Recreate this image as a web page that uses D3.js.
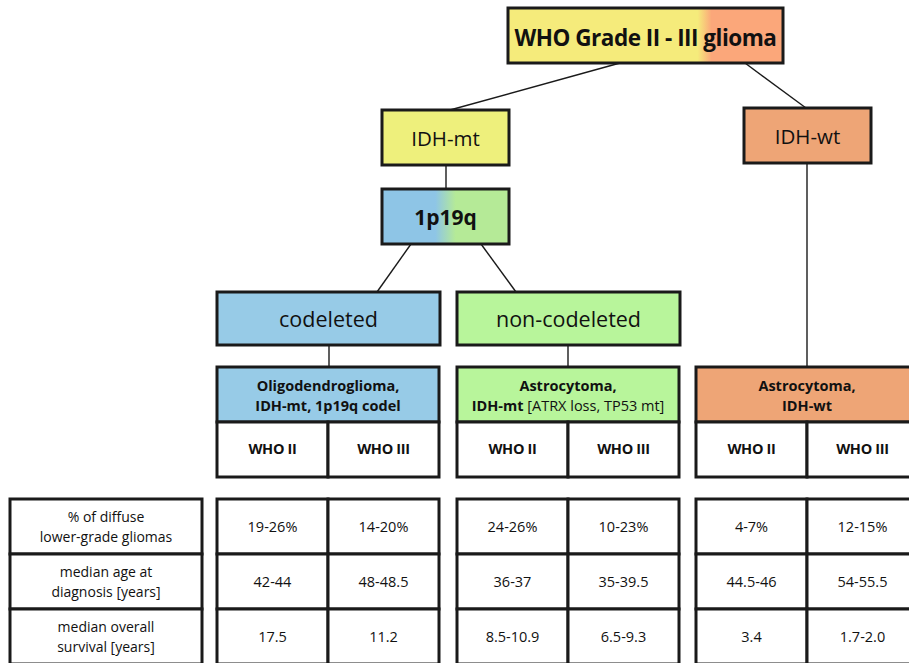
<!DOCTYPE html>
<html><head><meta charset="utf-8">
<script src="https://cdn.jsdelivr.net/npm/d3@7"></script>
<style>
html,body{margin:0;padding:0;background:#fff;}
svg{display:block;font-family:"Open Sans",sans-serif;}
</style></head>
<body>
<div id="chart"></div>
<script>
// ---- data ----
const rootLabel = "WHO Grade II - III glioma";
const idhLabels = ["IDH-mt", "IDH-wt"];
const statusLabel = "1p19q";
const codelLabels = ["codeleted", "non-codeleted"];
const entityLine1 = ["Oligodendroglioma,", "Astrocytoma,", "Astrocytoma,"];
const entityLine2Bold = ["IDH-mt, 1p19q codel", "IDH-mt", "IDH-wt"];
const entityLine2Extra = ["", " [ATRX loss, TP53 mt]", ""];
const grades = ["WHO II", "WHO III"];
const rowLabels = [
  ["% of diffuse", "lower-grade gliomas"],
  ["median age at", "diagnosis [years]"],
  ["median overall", "survival [years]"]
];
const pctValues = ["19-26%", "14-20%", "24-26%", "10-23%", "4-7%", "12-15%"];
const ageValues = ["42-44", "48-48.5", "36-37", "35-39.5", "44.5-46", "54-55.5"];
const survivalValues = ["17.5", "11.2", "8.5-10.9", "6.5-9.3", "3.4", "1.7-2.0"];

const W = 909, H = 663;
const svg = d3.select("#chart").append("svg").attr("width", W).attr("height", H);
const defs = svg.append("defs");

const gTop = defs.append("linearGradient").attr("id", "gTop");
[[0, "#f5eb7b"], [0.69, "#f5eb7b"], [0.74, "#fba77a"], [1, "#fba77a"]].forEach(s =>
  gTop.append("stop").attr("offset", s[0]).attr("stop-color", s[1]));
const g1p = defs.append("linearGradient").attr("id", "g1p");
[[0, "#8ec5e6"], [0.42, "#8ec5e6"], [0.58, "#b5ea97"], [1, "#b5ea97"]].forEach(s =>
  g1p.append("stop").attr("offset", s[0]).attr("stop-color", s[1]));

const BW = 3;
function box(x, y, w, h, fill) {
  svg.append("rect").attr("x", x).attr("y", y).attr("width", w).attr("height", h)
    .attr("fill", fill).attr("stroke", "#1a1a1a").attr("stroke-width", BW);
}
function line(x1, y1, x2, y2) {
  svg.append("line").attr("x1", x1).attr("y1", y1).attr("x2", x2).attr("y2", y2)
    .attr("stroke", "#1a1a1a").attr("stroke-width", 1.4);
}
function text(x, y, s, size, weight) {
  return svg.append("text").attr("x", x).attr("y", y).attr("text-anchor", "middle")
    .attr("dominant-baseline", "central").attr("font-size", size)
    .attr("font-weight", weight || 400).attr("fill", "#111").text(s);
}

// connectors
line(620, 63, 450, 110);
line(745, 63, 806, 108);
line(446, 165, 446, 189);
line(411, 244, 377, 292);
line(481, 244, 516, 292);
line(329, 345, 329, 367);
line(568, 345, 568, 367);
line(807, 164, 807, 367);

// top box
box(508, 8, 275, 55, "url(#gTop)");
text(645.5, 37, rootLabel, 22.5, 700).attr("letter-spacing", -0.5);

// IDH boxes
const idhX = [382, 744], idhFill = ["#eef07c", "#eea576"];
idhLabels.forEach((l, i) => {
  const y0 = i === 0 ? 110 : 108;
  box(idhX[i], y0, 127, 55, idhFill[i]);
  text(idhX[i] + 63.5, y0 + 28, l, 20.5, 400);
});

// 1p19q
box(382, 189, 127, 55, "url(#g1p)");
text(445.5, 217, statusLabel, 21, 700);

// codel boxes
const codX = [217, 457], codFill = ["#97cbe7", "#b8f59b"];
codelLabels.forEach((l, i) => {
  box(codX[i], 292, 223, 53, codFill[i]);
  text(codX[i] + 111.5, 318, l, 21.5, 400);
});

// entity columns
const entX = [217, 457, 696], entFill = ["#97cbe7", "#b8f59b", "#eea576"];
const cellW = 111;
entX.forEach((x, i) => {
  box(x, 367, cellW * 2, 55, entFill[i]);
  text(x + cellW, 385, entityLine1[i], 14.5, 700);
  const t = text(x + cellW, 405, "", 14.5, 700);
  t.append("tspan").text(entityLine2Bold[i]);
  if (entityLine2Extra[i]) t.append("tspan").attr("font-weight", 400).text(entityLine2Extra[i]);
  grades.forEach((g, j) => {
    box(x + j * cellW, 422, cellW, 55, "#fff");
    text(x + j * cellW + cellW / 2, 448, g, 14.5, 700).attr("letter-spacing", -0.3);
  });
});

// bottom table
const rowY = d3.scaleBand().domain(d3.range(3)).range([499, 664]);
const rowVals = [pctValues, ageValues, survivalValues];
rowLabels.forEach((lab, r) => {
  const y = rowY(r), h = rowY.bandwidth();
  box(10, y, 192, h, "#fff");
  text(106, y + h / 2 - 10, lab[0], 14, 400);
  text(106, y + h / 2 + 10, lab[1], 14, 400);
  rowVals[r].forEach((v, k) => {
    const ent = Math.floor(k / 2), j = k % 2;
    const x = entX[ent] + j * cellW;
    box(x, y, cellW, h, "#fff");
    text(x + cellW / 2, y + h / 2, v, 14.5, 400);
  });
});
</script>
</body></html>
